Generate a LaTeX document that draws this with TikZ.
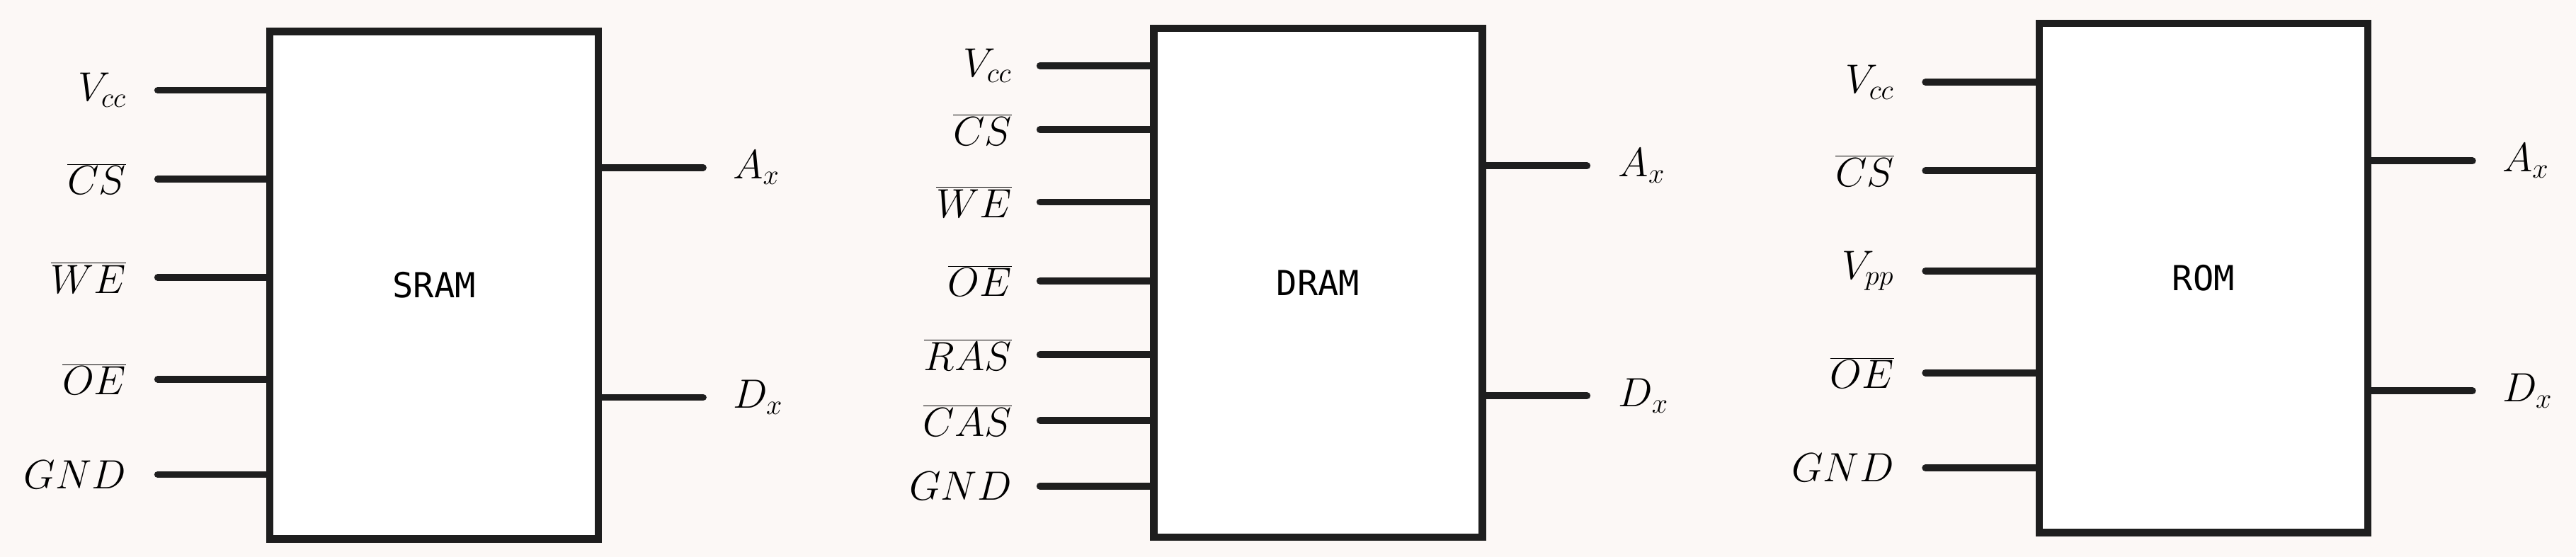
\documentclass[tikz,border=0pt]{standalone}
\usepackage{fontspec}
\newfontfamily\boxfont{DejaVu Sans Mono}
\definecolor{bg}{HTML}{FCF8F6}
\definecolor{ink}{HTML}{1E1E1E}
\begin{document}
\begin{tikzpicture}[x=1pt,y=-1pt,
  chip/.style={draw=ink,line width=4.5pt,fill=white,minimum width=200pt,anchor=north west,inner sep=0pt,font=\boxfont\fontsize{21}{24}\selectfont},
  pin/.style={draw=ink,line width=4.2pt,line cap=round},
  ll/.style={anchor=east,font=\fontsize{25}{28}\selectfont,inner sep=0pt},
  rl/.style={anchor=west,font=\fontsize{25}{28}\selectfont,inner sep=0pt}]
\useasboundingbox[fill=bg] (0,0) rectangle (1568,339);
% SRAM
\node[chip,minimum height=309pt] (s) at (162,17) {SRAM};
\foreach \y/\t [count=\i] in {55/V_{cc},109/\overline{CS},169/\overline{WE},231/\overline{OE},289/GND}{
  \coordinate (sa\i) at (96,\y); \draw[pin] (sa\i) -- (sa\i -| s.west);
  \node[ll] (sl\i) at (77,\y) {$\t$};}
\foreach \y/\t [count=\i] in {102/A_x,242/D_x}{
  \coordinate (sb\i) at (428,\y); \draw[pin] (sb\i -| s.east) -- (sb\i);
  \node[rl] (sr\i) at (446,\y) {$\t$};}
% DRAM
\node[chip,minimum height=310pt] (d) at (700,15) {DRAM};
\foreach \y/\t [count=\i] in {40/V_{cc},79/\overline{CS},123/\overline{WE},171/\overline{OE},216/\overline{RAS},256/\overline{CAS},296/GND}{
  \coordinate (da\i) at (633,\y); \draw[pin] (da\i) -- (da\i -| d.west);
  \node[ll] (dl\i) at (616,\y) {$\t$};}
\foreach \y/\t [count=\i] in {101/A_x,241/D_x}{
  \coordinate (db\i) at (966,\y); \draw[pin] (db\i -| d.east) -- (db\i);
  \node[rl] (dr\i) at (985,\y) {$\t$};}
% ROM
\node[chip,minimum height=310pt] (r) at (1239,12) {ROM};
\foreach \y/\t [count=\i] in {50/V_{cc},104/\overline{CS},165/V_{pp},227/\overline{OE},285/GND}{
  \coordinate (ra\i) at (1172,\y); \draw[pin] (ra\i) -- (ra\i -| r.west);
  \node[ll] (rl\i) at (1153,\y) {$\t$};}
\foreach \y/\t [count=\i] in {98/A_x,238/D_x}{
  \coordinate (rb\i) at (1505,\y); \draw[pin] (rb\i -| r.east) -- (rb\i);
  \node[rl] (rr\i) at (1523,\y) {$\t$};}
\end{tikzpicture}
\end{document}
